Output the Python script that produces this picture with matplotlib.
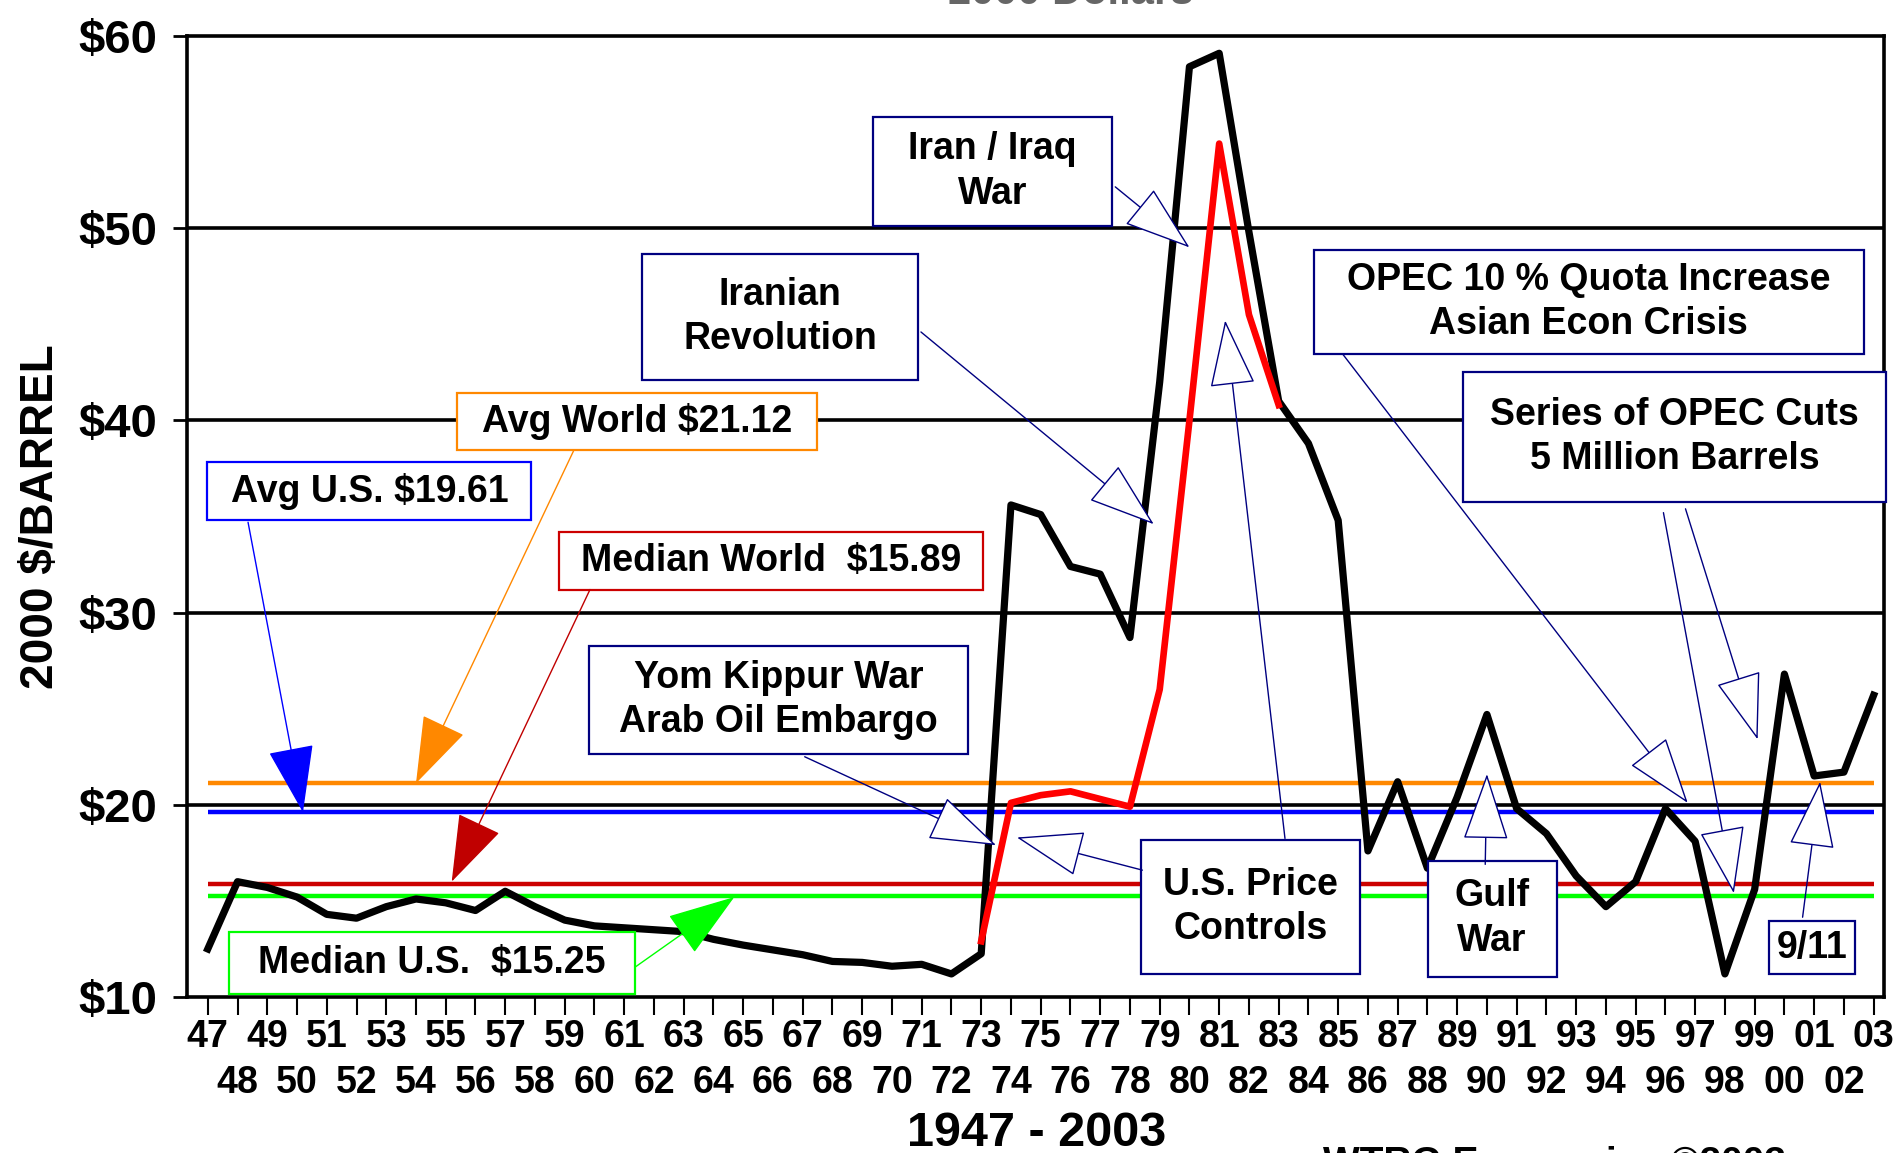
import matplotlib
matplotlib.use("Agg")
import matplotlib.pyplot as plt
from matplotlib.patches import Rectangle

# Crude oil price per barrel, 2000 dollars
years = list(range(1947, 2004))
world_price = [12.5, 16.0, 15.7, 15.2, 14.3, 14.1, 14.7, 15.1, 14.9, 14.5,
               15.5, 14.7, 14.0, 13.7, 13.6, 13.5, 13.4, 13.0, 12.7, 12.45,
               12.2, 11.85, 11.8, 11.6, 11.7, 11.2, 12.25,
               35.6, 35.1, 32.4, 32.0, 28.7, 42.0, 58.4, 59.1, 49.8, 41.0,
               38.8, 34.8,
               17.6, 21.2, 16.7, 20.4, 24.7, 19.8, 18.5, 16.3, 14.7, 16.0,
               19.8, 18.1, 11.2, 15.6, 26.8, 21.5, 21.7, 25.7]

# U.S. controlled price
us_years = list(range(1973, 1984))
us_price = [12.9, 20.1, 20.5, 20.7, 20.3, 19.9, 26.0, 40.0, 54.4, 45.5, 40.8]

stat_labels = ["Avg World $21.12", "Avg U.S. $19.61",
               "Median World  $15.89", "Median U.S.  $15.25"]
stat_values = [21.12, 19.61, 15.89, 15.25]
stat_colors = ["#FF8800", "#0000FF", "#CC0000", "#00FF00"]

y_ticks = [10, 20, 30, 40, 50, 60]
odd_years = [y for y in years if y % 2]
even_years = [y for y in years if not y % 2]

NAVY = "#000080"
BOX_FONT = ["Liberation Sans", "DejaVu Sans"]
AXIS_FONT = ["Liberation Sans", "DejaVu Sans"]
NARROW_FONT = ["Liberation Sans Narrow", "Liberation Sans", "DejaVu Sans"]

fig = plt.figure(figsize=(18.96, 11.53), dpi=100)
ax = fig.add_axes([0.0986, 0.1353, 0.8951, 0.8335])
ax.set_xlim(1946.3, 2003.35)
ax.set_ylim(10, 60)

# horizontal gridlines
for g in y_ticks[1:-1]:
    ax.axhline(g, color="black", lw=2.6, zorder=1)
for side in ax.spines.values():
    side.set_linewidth(2.6)

# average / median reference lines
for val, col in zip(stat_values, stat_colors):
    ax.hlines(val, years[0], years[-1], color=col, lw=3.2, zorder=2)

ax.plot(years, world_price, color="black", lw=5.2, zorder=4)
ax.plot(us_years, us_price, color="#FF0000", lw=4.8, zorder=4.5)

# axes ticks
ax.set_yticks(y_ticks)
ax.set_yticklabels([f"${v}" for v in y_ticks], fontsize=34,
                   fontweight="bold", family=AXIS_FONT)
ax.tick_params(axis="y", length=10, width=2, pad=11)

# two staggered rows of year labels
ax.set_xticks(odd_years)
ax.set_xticklabels([f"{y % 100:02d}" for y in odd_years], fontsize=27,
                   fontweight="bold", family=NARROW_FONT)
ax.set_xticks(even_years, minor=True)
ax.set_xticklabels([f"{y % 100:02d}" for y in even_years], minor=True,
                   fontsize=27, fontweight="bold", family=NARROW_FONT)
ax.tick_params(axis="x", which="both", length=13, width=1.5)
ax.tick_params(axis="x", which="major", pad=3)
ax.tick_params(axis="x", which="minor", pad=36)

ax.set_ylabel("2000 $/BARREL", fontsize=33, fontweight="bold",
              family=AXIS_FONT)
ax.yaxis.set_label_coords(-0.073, 0.5)

fig.text(0.547, 0.0165, "1947 - 2003", ha="center", va="center",
         fontsize=35, fontweight="bold", family=AXIS_FONT)
fig.text(0.565, 1 - 4.5 / 1153, "2000 Dollars", ha="center", va="baseline",
         fontsize=30, fontweight="bold", color="#666666", family=AXIS_FONT)
fig.text(0.82, 1 - 1146 / 1153, "WTRG Economics \u00a92003", ha="center",
         va="top", fontsize=28, fontweight="bold", family=AXIS_FONT)

# annotation boxes: text, (x0, y0, x1, y1) in axes fraction, edge colour
boxes = [
    ("Iran / Iraq\nWar", (0.404, 0.802, 0.545, 0.916), NAVY),
    ("Iranian\nRevolution", (0.268, 0.642, 0.431, 0.773), NAVY),
    (stat_labels[0], (0.159, 0.569, 0.371, 0.629), stat_colors[0]),
    (stat_labels[1], (0.012, 0.496, 0.203, 0.557), stat_colors[1]),
    (stat_labels[2], (0.219, 0.424, 0.469, 0.484), stat_colors[2]),
    ("Yom Kippur War\nArab Oil Embargo", (0.237, 0.253, 0.460, 0.365), NAVY),
    (stat_labels[3], (0.025, 0.003, 0.264, 0.068), stat_colors[3]),
    ("OPEC 10 % Quota Increase\nAsian Econ Crisis",
     (0.664, 0.669, 0.988, 0.777), NAVY),
    ("Series of OPEC Cuts\n5 Million Barrels",
     (0.752, 0.515, 1.001, 0.650), NAVY),
    ("U.S. Price\nControls", (0.562, 0.024, 0.691, 0.163), NAVY),
    ("Gulf\nWar", (0.731, 0.021, 0.807, 0.142), NAVY),
    ("9/11", (0.932, 0.024, 0.983, 0.079), NAVY),
]
for text, (x0, y0, x1, y1), col in boxes:
    ax.add_patch(Rectangle((x0, y0), x1 - x0, y1 - y0, transform=ax.transAxes,
                           facecolor="white", edgecolor=col, lw=1.6,
                           zorder=5, clip_on=False))
    ax.text((x0 + x1) / 2, (y0 + y1) / 2, text, transform=ax.transAxes,
            ha="center", va="center", fontsize=27, fontweight="bold",
            family=BOX_FONT, linespacing=1.3, zorder=6)

# arrows: start (axes fraction), target (data), colour, filled head
arrows = [
    ((0.036, 0.494), (1950.2, 19.61), stat_colors[1], True),
    ((0.228, 0.569), (1954.0, 21.12), stat_colors[0], True),
    ((0.2375, 0.424), (1955.2, 16.0), "#C00000", True),
    ((0.264, 0.031), (1964.7, 15.2), stat_colors[3], True),
    ((0.364, 0.250), (1973.5, 17.9), NAVY, False),
    ((0.4325, 0.692), (1978.8, 34.6), NAVY, False),
    ((0.547, 0.843), (1980.0, 49.0), NAVY, False),
    ((0.563, 0.132), (1974.2, 18.3), NAVY, False),
    ((0.647, 0.165), (1981.2, 45.2), NAVY, False),
    ((0.681, 0.669), (1996.75, 20.1), NAVY, False),
    ((0.870, 0.504), (1998.3, 15.4), NAVY, False),
    ((0.883, 0.508), (1999.1, 23.4), NAVY, False),
    ((0.765, 0.138), (1990.0, 21.6), NAVY, False),
    ((0.952, 0.083), (2001.2, 21.2), NAVY, False),
]
for start, tip, col, filled in arrows:
    ax.annotate("", xy=tip, xycoords="data", xytext=start,
                textcoords="axes fraction", zorder=7,
                arrowprops=dict(arrowstyle="-|>,head_length=4.4,head_width=1.5",
                                mutation_scale=10, shrinkA=0, shrinkB=0,
                                lw=1.0, ec=col,
                                fc=col if filled else "white"))

fig.savefig("out.png", dpi=100)
plt.close(fig)
